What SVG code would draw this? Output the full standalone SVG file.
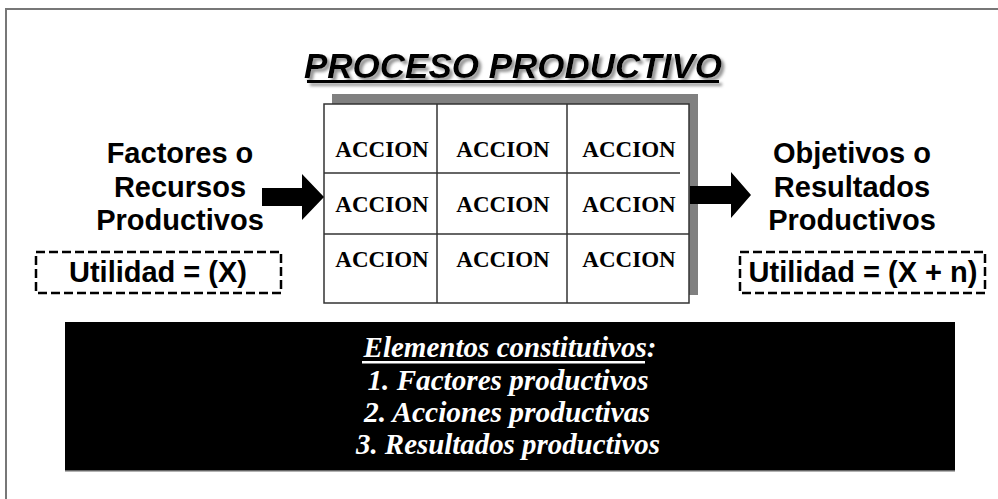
<svg xmlns="http://www.w3.org/2000/svg" width="998" height="499" viewBox="0 0 998 499">
<defs>
<style>
.sans{font-family:"Liberation Sans",Arial,sans-serif;font-weight:bold;fill:#000}
.serif{font-family:"Liberation Serif","Times New Roman",serif;font-weight:bold}
.cell{font-size:23px;text-anchor:middle;fill:#000}
.side{font-size:29px;text-anchor:middle}
.util{font-size:29px;text-anchor:middle}
.dash{fill:none;stroke:#000;stroke-width:2.5;stroke-dasharray:9 4}
.grid{stroke:#333;stroke-width:1.5}
.elem{font-size:30px;font-style:italic;fill:#fff;text-anchor:middle}
</style>
<filter id="shadow" x="-5%" y="-20%" width="110%" height="160%"><feDropShadow dx="3" dy="3" stdDeviation="1.5" flood-color="#888" flood-opacity="0.9"/></filter>
</defs>
<rect width="998" height="499" fill="#fff"/>
<g id="frame">
<path d="M6,499 V9 H998" fill="none" stroke="#777" stroke-width="2"/>
</g>
<g id="title" filter="url(#shadow)">
<text x="513" y="78" class="sans" style="font-size:35px;font-style:italic;text-anchor:middle">PROCESO PRODUCTIVO</text>
<rect x="307" y="80" width="412" height="3" fill="#000"/>
</g>
<g id="table">
<rect x="332" y="94" width="366" height="201" fill="#808080"/>
<rect x="324" y="104" width="365" height="199" fill="#fff" stroke="#333" stroke-width="1.5"/>
<line class="grid" x1="437" y1="104" x2="437" y2="303"/>
<line class="grid" x1="567" y1="104" x2="567" y2="303"/>
<line class="grid" x1="324" y1="173" x2="680" y2="173"/>
<line class="grid" x1="324" y1="234" x2="689" y2="234"/>
<g class="serif cell">
<text x="382" y="157">ACCION</text><text x="503" y="157">ACCION</text><text x="629" y="157">ACCION</text>
<text x="382" y="212">ACCION</text><text x="503" y="212">ACCION</text><text x="629" y="212">ACCION</text>
<text x="382" y="267">ACCION</text><text x="503" y="267">ACCION</text><text x="629" y="267">ACCION</text>
</g>
</g>
<g id="inputs">
<text class="sans side" x="180" y="163">Factores o</text>
<text class="sans side" x="180" y="197">Recursos</text>
<text class="sans side" x="180" y="230">Productivos</text>
<rect class="dash" x="36" y="252" width="245" height="41"/>
<text class="sans util" x="158" y="282">Utilidad = (X)</text>
</g>
<g id="outputs">
<text class="sans side" x="852" y="163">Objetivos o</text>
<text class="sans side" x="852" y="197">Resultados</text>
<text class="sans side" x="852" y="230">Productivos</text>
<rect class="dash" x="740" y="252" width="245" height="41"/>
<text class="sans util" x="863" y="282">Utilidad = (X + n)</text>
</g>
<g id="connectors">
<polygon points="262,188 302,188 302,174 324,197 302,220 302,206 262,206" fill="#000"/>
<polygon points="690,186 731,186 731,172 751,195 731,218 731,204 690,204" fill="#000"/>
</g>
<g id="elements">
<rect x="65" y="322" width="890" height="149" fill="#000"/>
<rect x="65" y="470" width="890" height="1.5" fill="#666"/>
<text class="serif elem" x="510" y="357" textLength="293" lengthAdjust="spacingAndGlyphs">Elementos constitutivos:</text>
<rect x="362" y="361" width="283" height="2.5" fill="#fff"/>
<text class="serif elem" x="508" y="390" textLength="281" lengthAdjust="spacingAndGlyphs">1. Factores productivos</text>
<text class="serif elem" x="507" y="422" textLength="286" lengthAdjust="spacingAndGlyphs">2. Acciones productivas</text>
<text class="serif elem" x="508" y="454" textLength="304" lengthAdjust="spacingAndGlyphs">3. Resultados productivos</text>
</g>
</svg>
